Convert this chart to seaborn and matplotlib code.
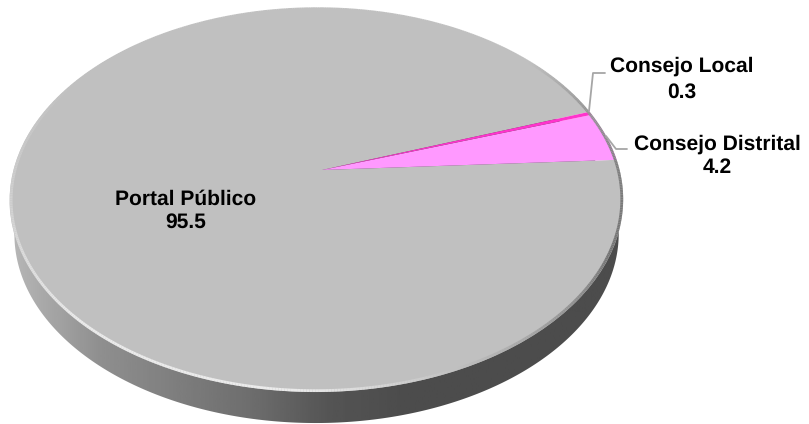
import numpy as np
import matplotlib
matplotlib.use("Agg")
import matplotlib.pyplot as plt
import seaborn as sns
from matplotlib.collections import LineCollection
from matplotlib.patches import Polygon
from matplotlib.transforms import Transform

# values
labels = ["Portal Público", "Consejo Distrital", "Consejo Local"]
values = [95.5, 4.2, 0.3]
colors = ["#c0c0c0", "#ff99ff", "#ff33cc"]

sns.set_theme(style="white")
plt.rcParams["font.family"] = ["Liberation Sans", "DejaVu Sans"]
plt.rcParams["text.hinting"] = "none"
plt.rcParams["text.hinting_factor"] = 1


# tilted disc: unit circle -> picture pixels
class Tilt(Transform):
    input_dims = 2
    output_dims = 2

    def __init__(self, scale=1.0, dy=0.0):
        super().__init__()
        self.scale = scale
        self.dy = dy

    def transform_non_affine(self, xy):
        xy = np.asarray(xy) * self.scale
        w = 1 + 0.018 * xy[:, 0] + 0.156 * xy[:, 1]
        u = 322 + 303 * xy[:, 0] / w
        v = 170 - 187.3 * xy[:, 1] / w + self.dy
        return np.column_stack([u, v])


fig = plt.figure(figsize=(8.09, 4.24), dpi=100)
ax = fig.add_axes([0, 0, 1, 1])

wedges, _ = ax.pie(values, colors=colors, startangle=19.4, counterclock=True,
                   wedgeprops={"linewidth": 0})
ax.set_aspect("auto")
ax.set_xlim(0, 809)
ax.set_ylim(424, 0)
ax.axis("off")

top = Tilt()
for w in wedges:
    w.set_transform(top + ax.transData)
    w.set_zorder(3)

theta = np.linspace(0, 2 * np.pi, 721)
circle = np.column_stack([np.cos(theta), np.sin(theta)])

# side wall, dark towards the right
wall = Polygon(Tilt(0.985, 35).transform(circle), closed=True, transform=ax.transData,
               facecolor="none", edgecolor="none")
ax.add_patch(wall)
xs = np.linspace(0, 809, 400)
shade = np.interp(xs, [10, 100, 250, 330, 400, 809], [0.72, 0.56, 0.43, 0.33, 0.30, 0.30])
img = ax.imshow(shade[None, :], extent=[0, 809, 424, 0], cmap="gray", vmin=0, vmax=1,
                aspect="auto", zorder=1)
img.set_clip_path(wall)
ax.set_xlim(0, 809)
ax.set_ylim(424, 0)

# bevel around the top face: light lower left, thin dark on the right
edge = Tilt(0.995).transform(circle)
segs = np.stack([edge[:-1], edge[1:]], axis=1)
mid = np.degrees(theta[:-1])
grey = np.interp(mid, [0, 22, 40, 150, 190, 225, 265, 285, 300, 335, 360],
                 [0.50, 0.60, 0.753, 0.753, 0.82, 0.92, 0.92, 0.80, 0.70, 0.45, 0.50])
rim = LineCollection(segs, colors=plt.cm.gray(grey), linewidths=2.0, zorder=4)
ax.add_collection(rim)

# leader lines
ax.plot([589, 593, 605], [111, 73, 73], color="#a6a6a6", lw=1.3, zorder=5)
ax.plot([606, 616, 627], [136, 149, 149], color="#a6a6a6", lw=1.3, zorder=5)

txt = dict(ha="center", va="center", fontsize=15.2, fontweight="bold", color="black", zorder=6)
ax.text(186, 199, labels[0], **txt)
ax.text(186, 222, str(values[0]), **txt)
ax.text(717, 144, labels[1], **txt)
ax.text(717, 168, str(values[1]), **txt)
ax.text(682, 66, labels[2], **txt)
ax.text(682, 92, str(values[2]), **txt)

fig.savefig("out.png", dpi=100)
